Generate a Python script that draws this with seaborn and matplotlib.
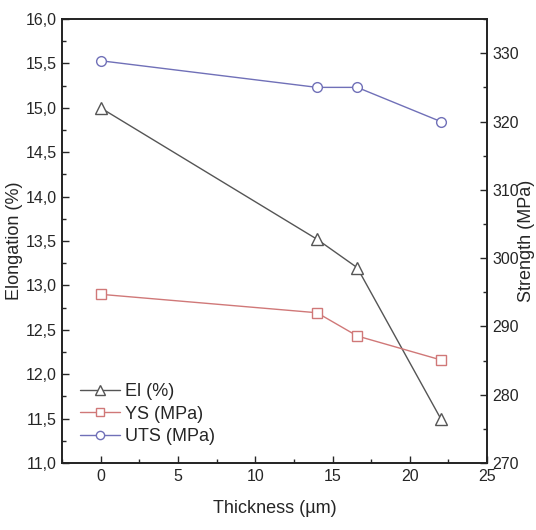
import matplotlib
matplotlib.use('Agg')
import matplotlib.pyplot as plt
import seaborn as sns
import pandas as pd
from matplotlib.ticker import FuncFormatter, MultipleLocator

thickness = [0, 14, 16.6, 22]
elongation = [15.0, 13.52, 13.2, 11.5]
ys = [294.7, 292.0, 288.6, 285.1]
uts = [328.9, 325.0, 325.0, 320.0]

sns.set_style('ticks')
plt.rcParams['font.family'] = ['Liberation Sans', 'DejaVu Sans']

df = pd.DataFrame({'thickness': thickness, 'El': elongation,
                   'YS': ys, 'UTS': uts})

fig = plt.figure(figsize=(5.36, 5.30), dpi=100)
ax = fig.add_axes([0.1157, 0.1264, 0.793, 0.8376])
ax2 = ax.twinx()

c_el = '#555555'
c_ys = '#d07878'
c_uts = '#7070b8'

sns.lineplot(data=df, x='thickness', y='El', ax=ax, color=c_el, marker='^',
             markersize=8, markerfacecolor='white', markeredgecolor=c_el,
             markeredgewidth=1.0, linewidth=1.0, label='El (%)', legend=False)
sns.lineplot(data=df, x='thickness', y='YS', ax=ax2, color=c_ys, marker='s',
             markersize=7, markerfacecolor='white', markeredgecolor=c_ys,
             markeredgewidth=1.0, linewidth=1.0, label='YS (MPa)', legend=False)
sns.lineplot(data=df, x='thickness', y='UTS', ax=ax2, color=c_uts, marker='o',
             markersize=7, markerfacecolor='white', markeredgecolor=c_uts,
             markeredgewidth=1.0, linewidth=1.0, label='UTS (MPa)', legend=False)

ax.set_xlim(-2.5, 25)
ax.set_ylim(11.0, 16.0)
ax2.set_ylim(270, 335)

ax.xaxis.set_major_locator(MultipleLocator(5))
ax.xaxis.set_minor_locator(MultipleLocator(2.5))
ax.yaxis.set_major_locator(MultipleLocator(0.5))
ax.yaxis.set_minor_locator(MultipleLocator(0.25))
ax2.yaxis.set_major_locator(MultipleLocator(10))
ax2.yaxis.set_minor_locator(MultipleLocator(5))
ax.yaxis.set_major_formatter(FuncFormatter(lambda v, p: f'{v:.1f}'.replace('.', ',')))

for a in (ax, ax2):
    a.tick_params(which='major', direction='in', length=5, width=1.0,
                  labelsize=11.5, pad=4)
    a.tick_params(which='minor', direction='in', length=3, width=1.0)
    for s in a.spines.values():
        s.set_linewidth(1.2)
        s.set_color('#222222')

ax.set_xlabel('Thickness (µm)', fontsize=13, labelpad=12)
ax.set_ylabel('Elongation (%)', fontsize=13)
ax2.set_ylabel('Strength (MPa)', fontsize=13)
ax.yaxis.set_label_coords(-0.092, 0.5)
ax2.yaxis.set_label_coords(1.072, 0.5)

h1, l1 = ax.get_legend_handles_labels()
h2, l2 = ax2.get_legend_handles_labels()
ax.legend(h1 + h2, l1 + l2, loc='lower left', frameon=False, fontsize=13,
          handlelength=2.2, handletextpad=0.3, labelspacing=0.3,
          borderaxespad=0.6, markerscale=0.85)

fig.savefig('out.png', dpi=100)
